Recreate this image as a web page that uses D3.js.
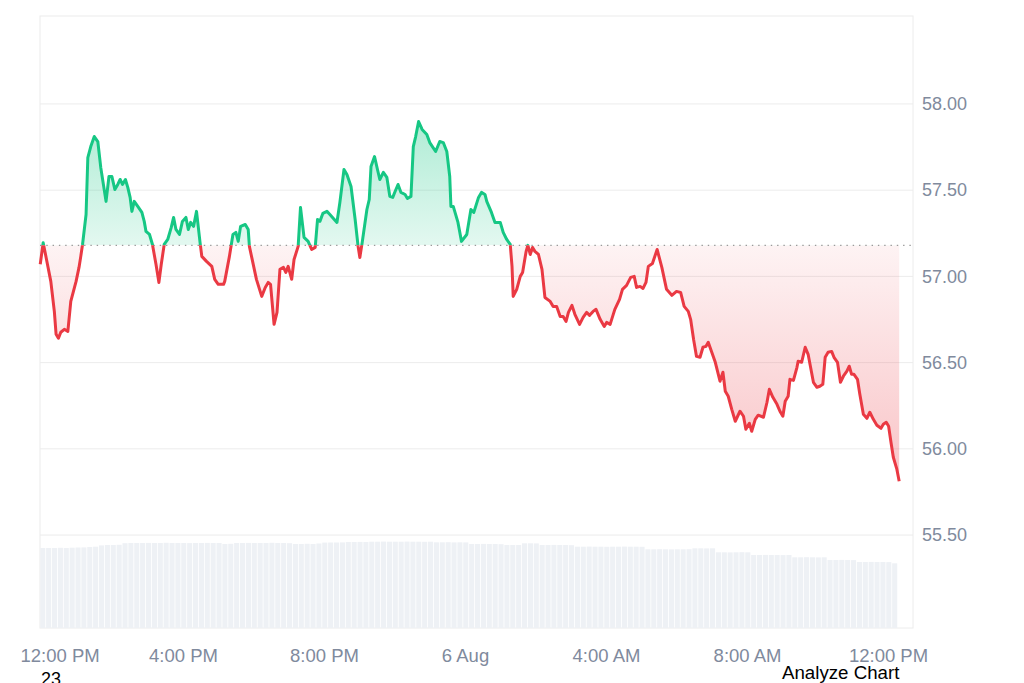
<!DOCTYPE html>
<html>
<head>
<meta charset="utf-8">
<script src="https://cdn.jsdelivr.net/npm/d3@7"></script>
<style>
  body { margin: 0; background: #fff; }
</style>
</head>
<body>
<div id="chart"></div>
<script>
// price, minutes after 5 Aug 12:00 PM
var minutes = [-3,2,7,15,21,24,28,32,38,44, 49,58,63,66,69,75,78,83,89,95,
  100,109,114,119,124,129,133,137,142,146, 150,153,157,163,170,174,177,183,188,194,
  199,203,208,214,220,224,228,234,239,245,
  249,253,258,263,269,272,280,289,294,300, 309,311,319,325,330,334,338,346,351,353,
  357,365,374,380,385,389,395,400,405,411, 415,419,425,429,436,440,446,453,459,465,
  469,473,478,485,490,
  502,507,514,519,526,533,538,541,545,553, 557,560,566,571,575,581,587,592,597,601,
  606,611,618,622,628,632,636,641,647,655, 660,670,677,683,689,694,696,700,708,714,
  723,730,735,743,748,754,
  757,765,771,780,785,791,797,800,802,808, 814,818,824,827,831,835,839,845,851,856,
  865,870,876,882,887,892,896,902,907,915, 921,927,932,938,943,950,957,961,967,975,
  983,988,995,1002,1008,1012,1018,1023,
  1028,1032,1039,1047,1055,1063,1072,1080,1087,1093, 1100,1104,1109,1114,1120,1125,1130,1134,1140,1146,
  1154,1159,1163,1168,1174,1180,1188,1194,1198,1204, 1208,1214,1219,1228,1234,1238,1244,1251,1256,1261,
  1265,1270,1273,1279,1285,1287,1293,1299,1304,1313, 1319,1324,1329,1333,1338,1344,1348,1354,1359,1364,
  1370,1374,1378,1382,1388,1392,1398,1404,1409,1415, 1421,1428,1432,1437,1441,1445,1449,1455,1459];

var prices = [57.070,57.195,57.110,56.971,56.797,56.664,56.641,56.676,56.693,56.681,
  56.855,56.971,57.052,57.116,57.185,57.359,57.689,57.753,57.811,57.782,
  57.632,57.435,57.579,57.579,57.504,57.533,57.562,57.533,57.562,57.516,
  57.458,57.377,57.435,57.406,57.371,57.319,57.261,57.243,57.185,57.070,
  56.965,57.070,57.185,57.214,57.284,57.342,57.272,57.243,57.319,57.342,
  57.272,57.313,57.290,57.377,57.197,57.116,57.087,57.058,56.983,56.954,
  56.954,56.971,57.116,57.243,57.255,57.203,57.290,57.301,57.272,57.174,
  57.110,56.983,56.884,56.936,56.965,56.954,56.722,56.791,57.041,57.052,
  57.023,57.058,56.983,57.098,57.174,57.400,57.226,57.203,57.156,57.168,
  57.330,57.319,57.365,57.377,57.359,
  57.313,57.429,57.620,57.591,57.521,57.330,57.174,57.110,57.197,57.388,
  57.446,57.637,57.695,57.620,57.562,57.603,57.574,57.464,57.458,57.492,
  57.533,57.487,57.475,57.452,57.464,57.753,57.811,57.898,57.852,57.823,
  57.776,57.724,57.782,57.776,57.724,57.579,57.406,57.406,57.313,57.203,
  57.243,57.388,57.371,57.458,57.487,57.475,
  57.435,57.371,57.313,57.313,57.255,57.214,57.185,57.058,56.884,56.925,
  57.000,57.023,57.145,57.180,57.127,57.168,57.145,57.127,57.041,56.878,
  56.855,56.826,56.826,56.768,56.768,56.739,56.791,56.832,56.780,56.722,
  56.762,56.791,56.774,56.797,56.809,56.751,56.710,56.733,56.722,56.809,
  56.867,56.925,56.948,56.994,57.000,56.936,56.942,56.930,
  56.965,57.058,57.075,57.156,57.052,56.925,56.890,56.913,56.907,56.826,
  56.797,56.751,56.635,56.536,56.531,56.589,56.594,56.618,56.560,56.502,
  56.392,56.444,56.334,56.305,56.229,56.160,56.218,56.189,56.114,56.148,
  56.102,56.171,56.195,56.183,56.270,56.345,56.299,56.258,56.218,56.189,
  56.276,56.305,56.403,56.397,56.473,56.508,56.502,56.589,56.548,56.386,
  56.357,56.363,56.374,56.531,56.560,56.565,56.531,56.502,56.386,56.421,
  56.450,56.479,56.432,56.432,56.403,56.316,56.200,56.177,56.212,56.171,
  56.137,56.119,56.142,56.154,56.131,56.038,55.951,55.882,55.812];

var openPrice = 57.18;

// volume bars, one per 10 minutes from 11:57 AM (arbitrary units)
var volumes = [80,80,80,80.2,80,80.3,80.5,80.6, 81,81.3,
  82.6,83,83,83.2,
  84.8,85,85,85,85.1,85,85,85.2,85,85,85,84.9,85,85,85.1,85,85,
  84,84.2,
  85,85,85.1,85,85,85,85.2,85,85,84.8,
  84,84,84.2,84,84.5,
  85.4,85.5,85.5,85.6,
  86,86,86.1,86,
  86.3,86.3,86.4,86.3,86.3,86.3,86.4,86.3,86.3,86.2,86.3,
  85.7,85.7,85.8,85.6,85.7,85.6,
  84,84,84.1,84,84,83.8,
  83,83,83,
  84.7,84.7,84.6,
  83,83,83.1,83,83,82.8,
  81.3,81.3,81.4,81.3,81.3,81.2,81.3,81.3,81.4,81.3,81.3,81.2,
  78.7,78.7,78.8,78.7,78.6,78.7,78.7,78.8,
  79.7,79.7,79.6,79.7,
  75.7,75.7,75.6,75.7,75.8,75.7,
  73,73,73.1,73,73,72.9,73,
  70.7,70.7,70.8,70.7,70.6,70.7,
  68,68,68.1,68,67.9,
  66,66,66.1,66,66,65.9,
  64.7];

var priceTicks = [55.5, 56, 56.5, 57, 57.5, 58];
var timeLabels = ['12:00 PM', '4:00 PM', '8:00 PM', '6 Aug', '4:00 AM', '8:00 AM', '12:00 PM'];

var svgWidth = 1024, svgHeight = 683;
var green = '#16c784', red = '#ea3943';
var font = '"Liberation Sans", Arial, sans-serif';

var start = new Date(2024, 7, 5, 12, 0);
function at(m) { return new Date(start.getTime() + m * 60000); }

var x = d3.scaleTime().domain([at(-3.4), at(1482.5)]).range([40, 913]);
var y = d3.scaleLinear().domain([54.961, 58.51]).range([628, 16]);
var yVol = d3.scaleLinear().domain([0, 93]).range([628, 535]);

var points = minutes.map(function(m, i) { return { t: at(m), p: prices[i] }; });
var yBase = y(openPrice);

var svg = d3.select('#chart')
  .append('svg')
  .attr('width', svgWidth)
  .attr('height', svgHeight);

var defs = svg.append('defs');

defs.append('clipPath').attr('id', 'above')
  .append('rect').attr('x', 0).attr('y', 0).attr('width', svgWidth).attr('height', yBase);
defs.append('clipPath').attr('id', 'below')
  .append('rect').attr('x', 0).attr('y', yBase).attr('width', svgWidth).attr('height', svgHeight - yBase);

var gUp = defs.append('linearGradient').attr('id', 'gUp')
  .attr('gradientUnits', 'userSpaceOnUse')
  .attr('x1', 0).attr('x2', 0).attr('y1', y(d3.max(prices))).attr('y2', yBase);
gUp.append('stop').attr('offset', 0).attr('stop-color', green).attr('stop-opacity', 0.34);
gUp.append('stop').attr('offset', 1).attr('stop-color', green).attr('stop-opacity', 0.12);

var gDown = defs.append('linearGradient').attr('id', 'gDown')
  .attr('gradientUnits', 'userSpaceOnUse')
  .attr('x1', 0).attr('x2', 0).attr('y1', yBase).attr('y2', y(d3.min(prices)));
gDown.append('stop').attr('offset', 0).attr('stop-color', red).attr('stop-opacity', 0.06);
gDown.append('stop').attr('offset', 1).attr('stop-color', red).attr('stop-opacity', 0.3);

// grid + frame
svg.selectAll('line.grid')
  .data(priceTicks)
  .enter()
  .append('line')
  .classed('grid', true)
  .attr('x1', x.range()[0])
  .attr('x2', x.range()[1])
  .attr('y1', function(d) { return y(d); })
  .attr('y2', function(d) { return y(d); })
  .attr('stroke', '#ececec');

svg.append('rect')
  .attr('x', x.range()[0])
  .attr('y', y.range()[1])
  .attr('width', x.range()[1] - x.range()[0])
  .attr('height', y.range()[0] - y.range()[1])
  .attr('fill', 'none')
  .attr('stroke', '#ececec');

// volume
var barW = x(at(7)) - x(at(-3));
svg.selectAll('rect.vol')
  .data(volumes)
  .enter()
  .append('rect')
  .classed('vol', true)
  .attr('x', function(d, i) { return x(at(-3 + i * 10)); })
  .attr('width', barW - 0.8)
  .attr('y', function(d) { return yVol(d); })
  .attr('height', function(d) { return yVol(0) - yVol(d); })
  .attr('fill', '#eef1f5');

// areas
var area = d3.area()
  .x(function(d) { return x(d.t); })
  .y0(yBase)
  .y1(function(d) { return y(d.p); });

svg.append('path').datum(points)
  .attr('d', area)
  .attr('fill', 'url(#gUp)')
  .attr('clip-path', 'url(#above)');
svg.append('path').datum(points)
  .attr('d', area)
  .attr('fill', 'url(#gDown)')
  .attr('clip-path', 'url(#below)');

// open price reference
svg.append('line')
  .attr('x1', x.range()[0])
  .attr('x2', x.range()[1])
  .attr('y1', yBase)
  .attr('y2', yBase)
  .attr('stroke', '#9a9a9a')
  .attr('stroke-width', 1.3)
  .attr('stroke-dasharray', '1.4 4.9');

// price line
var line = d3.line()
  .x(function(d) { return x(d.t); })
  .y(function(d) { return y(d.p); });

svg.append('path').datum(points)
  .attr('d', line)
  .attr('fill', 'none')
  .attr('stroke', green)
  .attr('stroke-width', 3)
  .attr('stroke-linejoin', 'round')
  .attr('clip-path', 'url(#above)');
svg.append('path').datum(points)
  .attr('d', line)
  .attr('fill', 'none')
  .attr('stroke', red)
  .attr('stroke-width', 3)
  .attr('stroke-linejoin', 'round')
  .attr('clip-path', 'url(#below)');

// axes
var yAxis = d3.axisRight(y)
  .tickValues(priceTicks)
  .tickFormat(d3.format('.2f'))
  .tickSize(0)
  .tickPadding(9);

svg.append('g')
  .attr('transform', 'translate(' + x.range()[1] + ',0)')
  .call(yAxis)
  .call(function(g) { g.select('.domain').remove(); })
  .selectAll('text')
  .attr('fill', '#808a9d')
  .style('font-family', font)
  .style('font-size', '18px');

var xAxis = d3.axisBottom(x)
  .tickValues(timeLabels.map(function(d, i) { return at(i * 240); }))
  .tickFormat(function(d, i) { return timeLabels[i]; })
  .tickSize(0)
  .tickPadding(21);

svg.append('g')
  .attr('transform', 'translate(0,' + y.range()[0] + ')')
  .call(xAxis)
  .call(function(g) { g.select('.domain').remove(); })
  .selectAll('text')
  .attr('fill', '#808a9d')
  .style('font-family', font)
  .style('font-size', '18.5px')
  .each(function(d) {
    // keep the first label inside the page like the original
    var b = this.getBBox();
    var left = x(d) + b.x;
    if (left < 20) d3.select(this).attr('x', 20 - left);
  });

svg.append('text')
  .attr('x', 782)
  .attr('y', 679)
  .attr('fill', '#000')
  .style('font-family', font)
  .style('font-size', '18.7px')
  .text('Analyze Chart');

svg.append('text')
  .attr('x', 41)
  .attr('y', 685)
  .attr('fill', '#000')
  .style('font-family', font)
  .style('font-size', '18px')
  .text('23');
</script>
</body>
</html>
